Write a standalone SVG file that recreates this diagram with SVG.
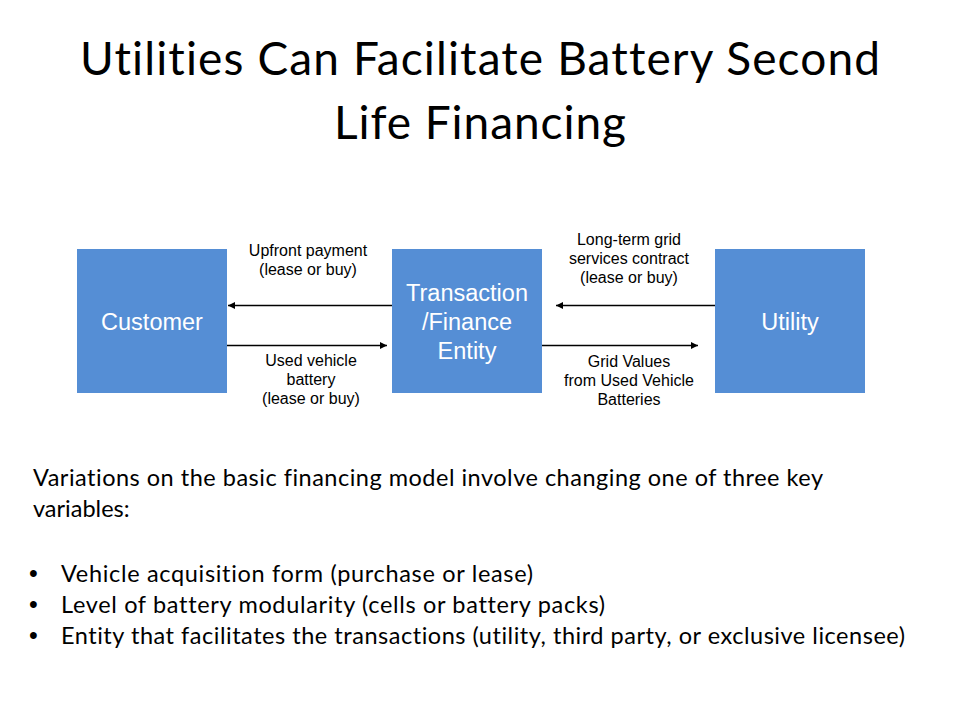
<svg xmlns="http://www.w3.org/2000/svg" width="960" height="720" viewBox="0 0 960 720">
<style>
.box{fill:#558ED5;}
.bl{font-family:"Liberation Sans",Arial,sans-serif;font-size:23.5px;fill:#ffffff;text-anchor:middle;}
.lbl{font-family:"Liberation Sans",Arial,sans-serif;font-size:16px;fill:#000000;text-anchor:middle;}
.title{font-family:Lato,"Open Sans",sans-serif;font-size:46px;fill:#000000;text-anchor:middle;font-variant-ligatures:none;}
.body{font-family:Lato,"Open Sans",sans-serif;font-size:23.5px;fill:#000000;font-variant-ligatures:none;}
.bul{font-family:"Liberation Sans",Arial,sans-serif;font-size:25px;fill:#000000;}
.conn{stroke:#000000;stroke-width:1.5;fill:none;marker-end:url(#ah);}
</style>
<defs>
<marker id="ah" viewBox="0 0 10 10" refX="10" refY="5" markerWidth="8" markerHeight="7" markerUnits="userSpaceOnUse" orient="auto">
<path d="M0,0 L10,5 L0,10 z" fill="#000000"/>
</marker>
</defs>
<rect width="960" height="720" fill="#ffffff"/>
<g id="title">
<text class="title" x="480" y="75" textLength="800">Utilities Can Facilitate Battery Second</text>
<text class="title" x="480" y="139" textLength="292">Life Financing</text>
</g>
<g id="customer">
<rect class="box" x="77" y="249" width="150" height="144"/>
<text class="bl" x="152" y="330">Customer</text>
</g>
<g id="finance">
<rect class="box" x="392" y="249" width="150" height="144"/>
<text class="bl" x="467" y="301">Transaction</text>
<text class="bl" x="467" y="330">/Finance</text>
<text class="bl" x="467" y="359">Entity</text>
</g>
<g id="utility">
<rect class="box" x="715" y="249" width="150" height="144"/>
<text class="bl" x="790" y="330">Utility</text>
</g>
<g id="connectors">
<line class="conn" x1="392" y1="305.5" x2="228" y2="305.5"/>
<line class="conn" x1="227" y1="345.5" x2="387" y2="345.5"/>
<line class="conn" x1="715" y1="305.5" x2="556" y2="305.5"/>
<line class="conn" x1="542" y1="345.5" x2="698" y2="345.5"/>
</g>
<g id="labels">
<text class="lbl" x="308" y="256">Upfront payment</text>
<text class="lbl" x="308" y="275">(lease or buy)</text>
<text class="lbl" x="311" y="366">Used vehicle</text>
<text class="lbl" x="311" y="385">battery</text>
<text class="lbl" x="311" y="404">(lease or buy)</text>
<text class="lbl" x="629" y="245">Long-term grid</text>
<text class="lbl" x="629" y="264">services contract</text>
<text class="lbl" x="629" y="283">(lease or buy)</text>
<text class="lbl" x="629" y="367">Grid Values</text>
<text class="lbl" x="629" y="386">from Used Vehicle</text>
<text class="lbl" x="629" y="405">Batteries</text>
</g>
<g id="body">
<text class="body" x="33" y="486" textLength="790">Variations on the basic financing model involve changing one of three key</text>
<text class="body" x="33" y="517">variables:</text>
<text class="bul" x="29" y="582">•</text>
<text class="body" x="61" y="582" textLength="472">Vehicle acquisition form (purchase or lease)</text>
<text class="bul" x="29" y="613">•</text>
<text class="body" x="61" y="613" textLength="544">Level of battery modularity (cells or battery packs)</text>
<text class="bul" x="29" y="644">•</text>
<text class="body" x="61" y="644" textLength="844">Entity that facilitates the transactions (utility, third party, or exclusive licensee)</text>
</g>
</svg>
